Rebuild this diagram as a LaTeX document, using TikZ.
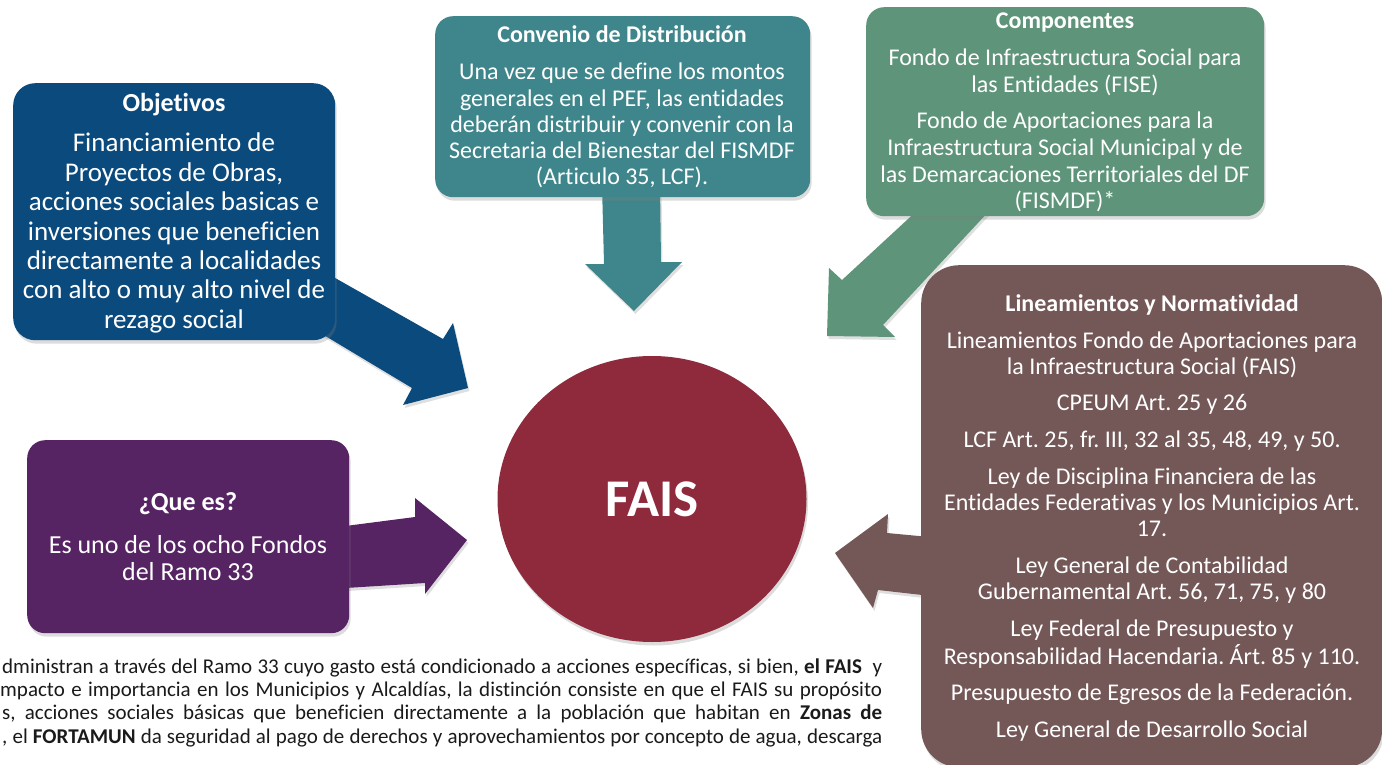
\documentclass[tikz,border=0pt]{standalone}
\usepackage{fontspec}
\setmainfont{Carlito}[Ligatures=NoCommon]
\usetikzlibrary{shadows,shapes.geometric}
\definecolor{cObj}{HTML}{0B4A7C}
\definecolor{cConv}{HTML}{3E868B}
\definecolor{cComp}{HTML}{5E9479}
\definecolor{cLin}{HTML}{745757}
\definecolor{cQue}{HTML}{562363}
\definecolor{cFais}{HTML}{8F2A3D}
\definecolor{cTxt}{HTML}{1A1A1A}
\frenchspacing
\newcommand\lns[1]{\begin{tabular}[t]{@{}c@{}}#1\end{tabular}}
\tikzset{
  box/.style={rounded corners=#1, anchor=north west, inner sep=0pt,
    drop shadow={opacity=0.28, shadow xshift=1.5pt, shadow yshift=-3.5pt}},
  blockarrow/.style={drop shadow={opacity=0.25, shadow xshift=1.5pt, shadow yshift=-3pt}},
  ttl/.style={text=white, anchor=base, inner sep=0pt, font=\fontsize{24}{28}\selectfont\bfseries},
  body/.style={text=white, anchor=base, inner sep=0pt},
  foot/.style={text=cTxt, anchor=base west, inner sep=0pt, font=\fontsize{21}{23.5}\selectfont},
}
\begin{document}
\begin{tikzpicture}[x=1pt,y=-1pt]
\useasboundingbox (0,0) rectangle (1382,765);
% block arrows (behind boxes)
\fill[cObj, blockarrow] (298,257) -- (443,339) -- (453,323) -- (468,388) -- (403,405) -- (412,388) -- (292,316) -- cycle;
\fill[cConv, blockarrow] (602,185) -- (604,264) -- (585,264) -- (634,311) -- (682,262) -- (661,262) -- (660,185) -- cycle;
\fill[cComp, blockarrow] (934,195) -- (842,280) -- (829,268) -- (827,336) -- (895,337) -- (883,325) -- (1004,195) -- cycle;
\fill[cLin, blockarrow] (940,538) -- (887,533) -- (888,514) -- (835,553) -- (873,608) -- (878,590) -- (940,597) -- cycle;
\fill[cQue, blockarrow] (330,528) -- (415,517) -- (415,498) -- (467,540) -- (425,594) -- (425,583) -- (330,589) -- cycle;
% boxes
\node[box=22pt, fill=cObj, minimum width=322pt, minimum height=257pt] (obj) at (13,83) {};
\node[box=18pt, fill=cConv, minimum width=375pt, minimum height=181pt] (conv) at (435,16) {};
\node[box=18pt, fill=cComp, minimum width=398pt, minimum height=209pt] (comp) at (866,7) {};
\node[box=38pt, fill=cLin, minimum width=461pt, minimum height=502pt] (lin) at (921,265) {};
\node[box=18pt, fill=cQue, minimum width=322pt, minimum height=193pt] (que) at (27,440) {};
\node[ellipse, fill=cFais, minimum width=309pt, minimum height=286pt, inner sep=0pt,
  drop shadow={opacity=0.28, shadow xshift=1.5pt, shadow yshift=-3.5pt},
  text=white, font=\fontsize{53}{60}\selectfont\bfseries] (fais) at (652,499) {FAIS};
% texts
\node[ttl, font=\fontsize{26}{30}\selectfont\bfseries] (objT) at (174,112) {Objetivos};
\node[body, font=\fontsize{27}{29.4}\selectfont] (objB) at (174,152) {\lns{Financiamiento de\\ Proyectos de Obras,\\ acciones sociales basicas e\\ inversiones que beneficien\\ directamente a localidades\\ con alto o muy alto nivel de\\ rezago social}};
\node[ttl] (convT) at (622,43) {Convenio de Distribución};
\node[body, font=\fontsize{24}{26.2}\selectfont] (convB) at (622,80) {\lns{Una vez que se define los montos\\ generales en el PEF, las entidades\\ deberán distribuir y convenir con la\\ Secretaria del Bienestar del FISMDF\\ (Articulo 35, LCF).}};
\node[ttl] (compT) at (1065,29) {Componentes};
\node[body, font=\fontsize{24}{26.8}\selectfont] (compB) at (1065,66) {\lns{Fondo de Infraestructura Social para\\ las Entidades (FISE)\\[9pt] Fondo de Aportaciones para la\\ Infraestructura Social Municipal y de\\ las Demarcaciones Territoriales del DF\\ (FISMDF)*}};
\node[ttl] (linT) at (1152,311) {Lineamientos y Normatividad};
\node[body, font=\fontsize{24}{26.2}\selectfont] (linB) at (1152,348) {\lns{Lineamientos Fondo de Aportaciones para\\ la Infraestructura Social (FAIS)\\[10.5pt] CPEUM Art. 25 y 26\\[10.5pt] LCF Art. 25, fr. III, 32 al 35, 48, 49, y 50.\\[10.5pt] Ley de Disciplina Financiera de las\\ Entidades Federativas y los Municipios Art.\\ 17.\\[10.5pt] Ley General de Contabilidad\\ Gubernamental Art. 56, 71, 75, y 80\\[10.5pt] Ley Federal de Presupuesto y\\ Responsabilidad Hacendaria. Árt. 85 y 110.\\[10.5pt] Presupuesto de Egresos de la Federación.\\[10.5pt] Ley General de Desarrollo Social}};
\node[ttl, font=\fontsize{26}{30}\selectfont\bfseries] (queT) at (188,510) {¿Que es?};
\node[body, font=\fontsize{26}{27}\selectfont] (queB) at (188,553) {\lns{Es uno de los ocho Fondos\\ del Ramo 33}};
% footer paragraph
\node[foot] (f1) at (2,673) {\makebox[880pt][s]{dministran a través del Ramo 33 cuyo gasto está condicionado a acciones específicas, si bien, \textbf{el FAIS} \ y}};
\node[foot] (f2) at (0,696) {\makebox[882pt][s]{mpacto e importancia en los Municipios y Alcaldías, la distinción consiste en que el FAIS su propósito}};
\node[foot] (f3) at (2,719) {\makebox[880pt][s]{s, acciones sociales básicas que beneficien directamente a la población que habitan en \textbf{Zonas de}}};
\node[foot] (f4) at (2,743) {\makebox[880pt][s]{, el \textbf{FORTAMUN} da seguridad al pago de derechos y aprovechamientos por concepto de agua, descarga}};
\end{tikzpicture}
\end{document}
